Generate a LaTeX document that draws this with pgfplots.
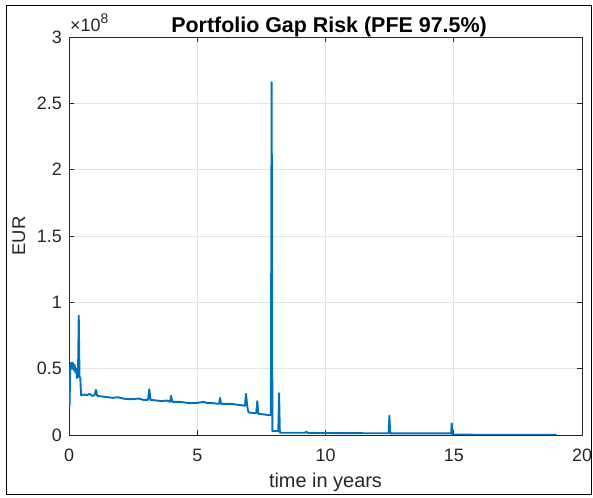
\documentclass[border=0pt]{standalone}
\usepackage{fontspec}
\setmainfont{Liberation Sans}
\usepackage{pgfplots}
\pgfplotsset{compat=1.18}
\definecolor{mblue}{rgb}{0,0.447,0.741}
\definecolor{axgray}{rgb}{0.15,0.15,0.15}
\definecolor{gridgray}{rgb}{0.89,0.89,0.89}
\pgfplotstableread{
x y
0.02 0.21
0.05 0.53
0.09 0.545
0.11 0.50
0.15 0.545
0.18 0.49
0.22 0.53
0.25 0.47
0.29 0.50
0.31 0.43
0.35 0.44
0.38 0.90
0.41 0.44
0.44 0.43
0.47 0.30
0.6 0.305
0.7 0.30
0.8 0.31
0.9 0.295
1.0 0.30
1.05 0.34
1.1 0.295
1.3 0.29
1.5 0.285
1.7 0.28
1.9 0.285
2.1 0.275
2.3 0.27
2.5 0.27
2.7 0.275
2.9 0.265
3.08 0.265
3.13 0.345
3.18 0.265
3.4 0.26
3.6 0.255
3.8 0.26
3.94 0.25
3.98 0.295
4.03 0.25
4.3 0.25
4.5 0.245
4.7 0.24
4.9 0.24
5.1 0.245
5.25 0.25
5.4 0.24
5.6 0.24
5.85 0.235
5.89 0.28
5.93 0.235
6.1 0.235
6.3 0.235
6.5 0.23
6.7 0.225
6.86 0.22
6.9 0.31
6.95 0.215
7.0 0.17
7.2 0.165
7.3 0.165
7.34 0.255
7.38 0.16
7.6 0.155
7.8 0.15
7.87 0.15
7.9 2.66
7.93 0.03
8.16 0.03
8.19 0.315
8.22 0.017
9.2 0.017
9.26 0.025
9.3 0.016
10 0.015
11 0.014
12 0.013
12.46 0.013
12.49 0.146
12.52 0.012
13 0.012
14 0.012
14.9 0.012
14.92 0.088
14.95 0.003
16 0.002
17 0.002
18 0.002
19.01 0.001
}\gapdata
\begin{document}
\begin{tikzpicture}[x=1bp,y=1bp]
\useasboundingbox (0,0) rectangle (593,498);
\begin{axis}[
  at={(69bp,63bp)}, anchor=south west,
  scale only axis, width=513bp, height=398bp,
  xmin=0, xmax=20, ymin=0, ymax=3,
  xtick={0,5,10,15,20}, ytick={0,0.5,1,1.5,2,2.5,3},
  xticklabels={0,5,10,15,20},
  yticklabels={0,0.5,1,1.5,2,2.5,3},
  grid=major,
  major grid style={color=gridgray, line width=0.6bp},
  axis line style={color=axgray, line width=0.7bp},
  tick style={color=axgray, line width=0.7bp},
  tick align=inside, major tick length=5bp,
  xticklabel style={font=\fontsize{18}{18}\selectfont, text=axgray, inner sep=0pt, anchor=north, yshift=-14bp},
  yticklabel style={font=\fontsize{18}{18}\selectfont, text=axgray, inner sep=0pt, anchor=east, xshift=-7bp},
  /pgf/number format/assume math mode=true,
]
\addplot[color=mblue, line width=1.9bp, line join=round, mark=none] table[x=x,y=y] {\gapdata};
\end{axis}
\draw[black, line width=1bp] (6,3) rectangle (591,492);
\node[anchor=base, font=\bfseries\fontsize{21.5}{21.5}\selectfont, inner sep=0pt] at (329,465) {Portfolio Gap Risk (PFE 97.5\%)};
\node[anchor=base, font=\fontsize{20}{20}\selectfont, text=axgray, inner sep=0pt] at (325.5,10) {time in years};
\node[anchor=base, rotate=90, font=\fontsize{18.5}{18.5}\selectfont, text=axgray, inner sep=0pt] at (25,262) {EUR};
\node[anchor=base west, font=\fontsize{18}{18}\selectfont, text=axgray, inner sep=0pt] at (70,466.3) {×10\raisebox{8bp}{\fontsize{14}{14}\selectfont 8}};
\end{tikzpicture}
\end{document}
